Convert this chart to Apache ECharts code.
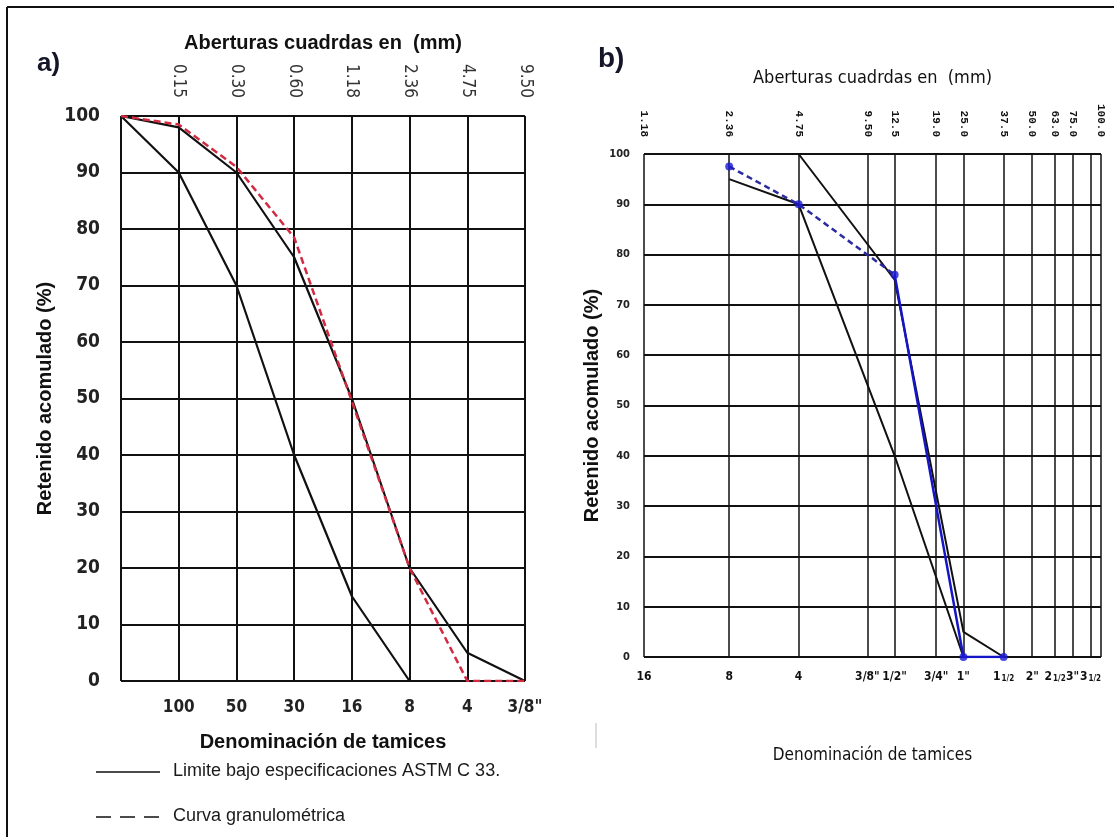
<!DOCTYPE html>
<html><head><meta charset="utf-8">
<script src="https://cdn.jsdelivr.net/npm/echarts@6/dist/echarts.min.js"></script>
<style>html,body{margin:0;padding:0;background:#fff}#c{width:1114px;height:837px}</style>
</head><body><div id="c"></div>
<script>
// ---------- Panel a data ----------
const aSieveLabels   = ['', '100', '50', '30', '16', '8', '4', '3/8"'];
const aOpeningLabels = ['', '0.15', '0.30', '0.60', '1.18', '2.36', '4.75', '9.50'];
const aLimitLow  = [100, 90, 70, 40, 15, 0];
const aLimitHigh = [100, 98, 90, 75, 50, 20, 5, 0];
const aCurve     = [100, 98.5, 91, 78.5, 49.5, 20, 0, 0];

// ---------- Panel b data ----------
const bTickPositions = [1, 2.36, 4.75, 9.5, 12.5, 19, 25, 37.5, 50, 63, 75, 90, 100];
const bOpeningLabels = ['1.18', '2.36', '4.75', '9.50', '12.5', '19.0', '25.0', '37.5', '50.0', '63.0', '75.0', '90.0', '100.0'];
const bSieveLabels   = ['16', '8', '4', '3/8"', '1/2"', '3/4"', '1"', '1{s|1/2}', '2"', '2{s|1/2}', '3"', '3{s|1/2}', ''];
const bLowMm  = [2.36, 4.75, 12.5, 25];
const bLowVal = [95, 90, 40, 0];
const bHighMm  = [4.75, 12.5, 25, 37.5];
const bHighVal = [100, 75, 5, 0];
const bCurveDashMm  = [2.36, 4.75, 12.5];
const bCurveDashVal = [97.5, 90, 76];
const bCurveSolidMm  = [12.5, 19, 25, 37.5];
const bCurveSolidVal = [76, 30, 0, 0];
const bMarkerMm  = [2.36, 4.75, 12.5, 25, 37.5];
const bMarkerVal = [97.5, 90, 76, 0, 0];

const legendLabels = ['Limite bajo especificaciones ASTM C 33.', 'Curva granulométrica'];

const NARROW = "'Liberation Sans Narrow', 'DejaVu Sans Condensed', 'Arial Narrow', sans-serif";
const SANS = "'Liberation Sans', Arial, sans-serif";
const MONO = "'Liberation Mono', 'DejaVu Sans Mono', monospace";

const pairs = (xs, ys) => xs.map((x, i) => [x, ys[i]]);
const idxPairs = ys => ys.map((y, i) => [i, y]);
const bLabelIdx = v => bTickPositions.findIndex(p => Math.abs(p - v) < 1e-6);

const chart = echarts.init(document.getElementById('c'), null, {renderer: 'canvas'});

const option = {
  animation: false,
  backgroundColor: '#fff',
  grid: [
    {left: 121, top: 116, width: 404, height: 565},
    {left: 644, top: 154, width: 457, height: 503}
  ],
  xAxis: [
    { // a bottom
      gridIndex: 0, type: 'value', position: 'bottom', min: 0, max: 7, interval: 1,
      axisLine: {show: false}, axisTick: {show: false},
      splitLine: {show: true, lineStyle: {color: '#111', width: 2}},
      axisLabel: {margin: 18, color: '#222', fontFamily: NARROW, fontWeight: 'bold', fontSize: 17,
        showMaxLabel: true, formatter: v => aSieveLabels[Math.round(v)] || ''},
      name: 'Denominación de tamices', nameLocation: 'middle', nameGap: 51,
      nameTextStyle: {fontFamily: SANS, fontWeight: 'bold', fontSize: 20, color: '#111'}
    },
    { // a top
      gridIndex: 0, type: 'value', position: 'top', min: 0, max: 7, interval: 1,
      axisLine: {show: false}, axisTick: {show: false}, splitLine: {show: false},
      axisLabel: {rotate: 90, margin: 18, color: '#333', fontFamily: NARROW, fontSize: 17,
        showMaxLabel: true, formatter: v => aOpeningLabels[Math.round(v)] || ''},
      name: 'Aberturas cuadrdas en  (mm)', nameLocation: 'middle', nameGap: 63,
      nameTextStyle: {fontFamily: SANS, fontWeight: 'bold', fontSize: 20, color: '#111'}
    },
    { // b bottom
      gridIndex: 1, type: 'log', logBase: 10, position: 'bottom', min: 1, max: 100,
      axisLine: {show: false},
      axisTick: {show: false, customValues: bTickPositions},
      splitLine: {show: true, lineStyle: {color: '#111', width: 1.5}},
      axisLabel: {customValues: bTickPositions, margin: 14, color: '#111', fontFamily: NARROW, fontWeight: 'bold', fontSize: 12,
        showMaxLabel: true, hideOverlap: false,
        formatter: v => bSieveLabels[bLabelIdx(v)] || '',
        rich: {s: {fontFamily: NARROW, fontWeight: 'bold', fontSize: 8, color: '#111', padding: [3, 0, 0, 1]}}},
      name: 'Denominación de tamices', nameLocation: 'middle', nameGap: 90,
      nameTextStyle: {fontFamily: NARROW, fontSize: 17, color: '#111'}
    },
    { // b top
      gridIndex: 1, type: 'log', logBase: 10, position: 'top', min: 1, max: 100,
      axisLine: {show: false},
      axisTick: {show: false, customValues: bTickPositions},
      splitLine: {show: false},
      axisLabel: {customValues: bTickPositions, rotate: 90, margin: 17, color: '#111', fontFamily: MONO, fontWeight: 'bold', fontSize: 11,
        showMaxLabel: true, showMinLabel: true, hideOverlap: false,
        formatter: v => bOpeningLabels[bLabelIdx(v)] || ''},
      name: 'Aberturas cuadrdas en  (mm)', nameLocation: 'middle', nameGap: 67,
      nameTextStyle: {fontFamily: NARROW, fontSize: 18, color: '#111'}
    }
  ],
  yAxis: [
    {
      gridIndex: 0, type: 'value', min: 0, max: 100, interval: 10,
      axisLine: {show: false}, axisTick: {show: false},
      splitLine: {show: true, lineStyle: {color: '#111', width: 2}},
      axisLabel: {margin: 21, color: '#222', fontFamily: NARROW, fontWeight: 'bold', fontSize: 19},
      name: 'Retenido acomulado (%)', nameLocation: 'middle', nameGap: 66,
      nameTextStyle: {fontFamily: SANS, fontWeight: 'bold', fontSize: 20, color: '#111'}
    },
    {
      gridIndex: 1, type: 'value', min: 0, max: 100, interval: 10,
      axisLine: {show: false}, axisTick: {show: false},
      splitLine: {show: true, lineStyle: {color: '#111', width: 2}},
      axisLabel: {margin: 14, color: '#222', fontFamily: NARROW, fontWeight: 'bold', fontSize: 11},
      name: 'Retenido acomulado (%)', nameLocation: 'middle', nameGap: 42,
      nameTextStyle: {fontFamily: SANS, fontWeight: 'bold', fontSize: 20, color: '#111'}
    }
  ],
  series: [
    {name: 'a-limite-bajo', type: 'line', xAxisIndex: 0, yAxisIndex: 0, data: idxPairs(aLimitLow),
      symbol: 'none', lineStyle: {color: '#111', width: 2.2}, z: 3},
    {name: 'a-limite-alto', type: 'line', xAxisIndex: 0, yAxisIndex: 0, data: idxPairs(aLimitHigh),
      symbol: 'none', lineStyle: {color: '#111', width: 2.2}, z: 3},
    {name: 'a-curva', type: 'line', xAxisIndex: 0, yAxisIndex: 0, data: idxPairs(aCurve),
      symbol: 'none', lineStyle: {color: '#d22a40', width: 2.5, type: [7, 4]}, z: 4},
    {name: 'b-limite-bajo', type: 'line', xAxisIndex: 2, yAxisIndex: 1, data: pairs(bLowMm, bLowVal),
      symbol: 'none', lineStyle: {color: '#111', width: 2}, z: 3},
    {name: 'b-limite-alto', type: 'line', xAxisIndex: 2, yAxisIndex: 1, data: pairs(bHighMm, bHighVal),
      symbol: 'none', lineStyle: {color: '#111', width: 2}, z: 3},
    {name: 'b-curva-dash', type: 'line', xAxisIndex: 2, yAxisIndex: 1, data: pairs(bCurveDashMm, bCurveDashVal),
      symbol: 'none', lineStyle: {color: '#2b2ba0', width: 2.5, type: [6, 4]}, z: 4},
    {name: 'b-curva-solid', type: 'line', xAxisIndex: 2, yAxisIndex: 1, data: pairs(bCurveSolidMm, bCurveSolidVal),
      symbol: 'none', lineStyle: {color: '#1515c8', width: 2.5}, z: 4},
    {name: 'b-puntos', type: 'scatter', xAxisIndex: 2, yAxisIndex: 1, data: pairs(bMarkerMm, bMarkerVal),
      symbol: 'circle', symbolSize: 8, itemStyle: {color: '#1a1ad6'}, z: 5}
  ],
  graphic: [
    {type: 'line', shape: {x1: 7, y1: 7, x2: 1114, y2: 7}, style: {stroke: '#111', lineWidth: 2}},
    {type: 'line', shape: {x1: 7, y1: 7, x2: 7, y2: 837}, style: {stroke: '#111', lineWidth: 2}},
    {type: 'line', shape: {x1: 596, y1: 723, x2: 596, y2: 748}, style: {stroke: '#bbb', lineWidth: 1}},
    {type: 'text', left: 37, top: 51, style: {text: 'a)', font: "bold 26px 'Liberation Sans', Arial, sans-serif", fill: '#15152a'}},
    {type: 'text', left: 598, top: 45, style: {text: 'b)', font: "bold 28px 'Liberation Sans', Arial, sans-serif", fill: '#15152a'}},
    {type: 'line', shape: {x1: 96, y1: 772, x2: 160, y2: 772}, style: {stroke: '#111', lineWidth: 1.5}},
    {type: 'line', shape: {x1: 96, y1: 817, x2: 160, y2: 817}, style: {stroke: '#111', lineWidth: 1.5, lineDash: [15, 9]}},
    {type: 'text', left: 173, top: 762, style: {text: legendLabels[0], font: "18px 'Liberation Sans', Arial, sans-serif", fill: '#1a1a1a'}},
    {type: 'text', left: 173, top: 807, style: {text: legendLabels[1], font: "18px 'Liberation Sans', Arial, sans-serif", fill: '#1a1a1a'}}
  ]
};
chart.setOption(option);
</script>
</body></html>
